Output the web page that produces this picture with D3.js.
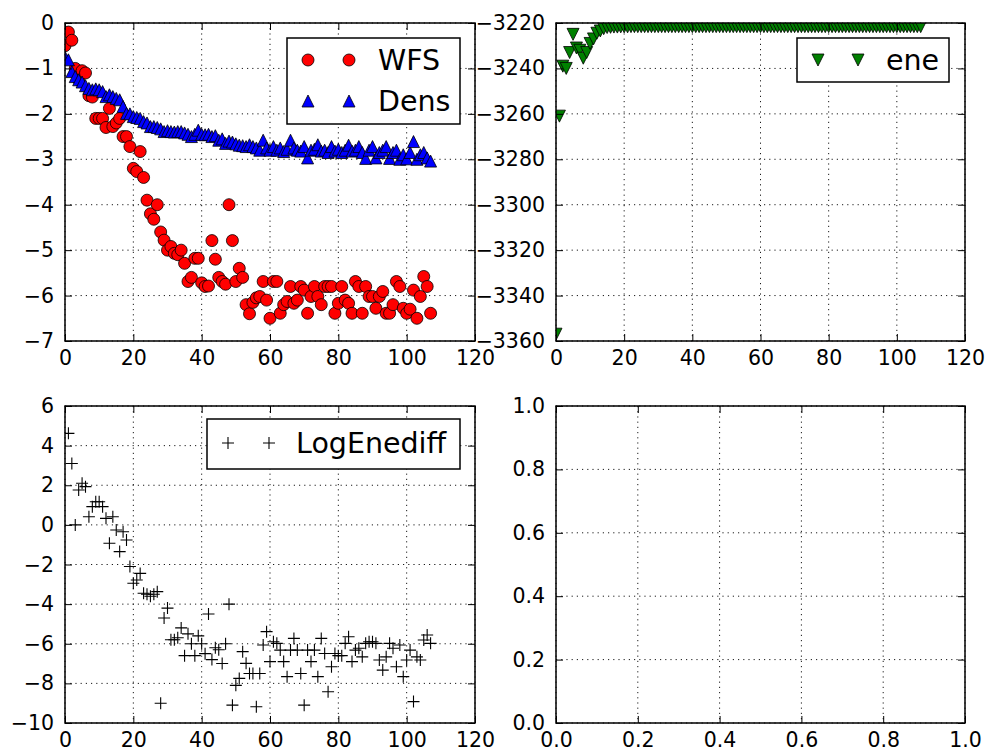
<!DOCTYPE html>
<html><head><meta charset="utf-8">
<script src="https://cdn.jsdelivr.net/npm/d3@7"></script>
<style>body{margin:0;background:#fff}</style>
</head><body><svg id="c" width="989" height="754"></svg>
<script>
// ---------- data ----------
const wfs = [-0.5, -0.2, -0.38, -1.0, -1.25, -1.05, -1.1, -1.6, -1.63, -2.1, -2.1,
 -2.1, -2.3, -1.88, -2.28, -2.2, -2.1, -2.5, -2.5, -2.72, -3.2,
 -3.27, -2.83, -3.4, -3.9, -4.2, -4.32, -4.0, -4.6, -4.78, -5.0,
 -4.92, -5.07, -5.1, -5.0, -5.29, -5.69, -5.6, -5.18, -5.18, -5.72,
 -5.8, -5.79, -4.79, -5.2, -5.6, -5.69, -5.75, -4.0, -4.79, -5.69,
 -5.4, -5.6, -6.2, -6.4, -6.15, -6.05, -6.02, -5.69, -6.1, -6.5,
 -5.69, -5.69, -6.39, -6.2, -6.13, -5.8, -6.17, -6.1, -5.8, -5.88,
 -6.39, -6.02, -5.8, -6.02, -6.2, -5.8, -5.8, -5.8, -6.39, -6.17,
 -5.8, -6.1, -6.17, -6.39, -5.69, -5.8, -6.39, -5.8, -6.02, -6.02,
 -6.28, -6.02, -5.91, -6.39, -6.39, -6.2, -5.69, -5.8, -6.28, -6.39,
 -6.3, -5.88, -6.5, -6.02, -5.58, -5.8, -6.39];
const dens = [-0.75, -0.81, -1.07, -1.18, -1.25, -1.3, -1.38, -1.44, -1.47, -1.45, -1.47,
 -1.51, -1.62, -1.58, -1.62, -1.66, -1.69, -1.84, -1.99, -2.0, -2.06,
 -2.08, -2.1, -2.17, -2.2, -2.28, -2.28, -2.3, -2.33, -2.39, -2.37,
 -2.39, -2.4, -2.39, -2.39, -2.42, -2.45, -2.5, -2.45, -2.36, -2.45,
 -2.46, -2.45, -2.5, -2.48, -2.58, -2.55, -2.65, -2.6, -2.62, -2.66,
 -2.69, -2.7, -2.72, -2.68, -2.72, -2.75, -2.8, -2.58, -2.75, -2.8,
 -2.72, -2.8, -2.75, -2.83, -2.78, -2.58, -2.75, -2.8, -2.82, -2.72,
 -2.97, -2.8, -2.78, -2.68, -2.82, -2.8, -2.85, -2.72, -2.82, -2.78,
 -2.85, -2.8, -2.69, -2.82, -2.8, -2.72, -2.85, -2.98, -2.8, -2.72,
 -2.97, -2.85, -2.8, -2.72, -2.98, -2.85, -2.8, -3.0, -2.9, -2.99,
 -2.85, -2.61, -3.0, -2.9, -2.85, -2.97, -3.04];
const ene = [-3357, -3261, -3239, -3240, -3233, -3225, -3231, -3232, -3235.5, -3233,
 -3229, -3227, -3224.5, -3223.5, -3222.5, -3222,
 -3221.9, -3221.8, -3221.8, -3221.7, -3221.7, -3221.7, -3221.6, -3221.6, -3221.6, -3221.6,
 -3221.6, -3221.6, -3221.6, -3221.6, -3221.6, -3221.6, -3221.6, -3221.6, -3221.6, -3221.6,
 -3221.6, -3221.6, -3221.6, -3221.6, -3221.6, -3221.6, -3221.6, -3221.6, -3221.6, -3221.6,
 -3221.6, -3221.6, -3221.6, -3221.6, -3221.6, -3221.6, -3221.6, -3221.6, -3221.6, -3221.6,
 -3221.6, -3221.6, -3221.6, -3221.6, -3221.6, -3221.6, -3221.6, -3221.6, -3221.6, -3221.6,
 -3221.6, -3221.6, -3221.6, -3221.6, -3221.6, -3221.6, -3221.6, -3221.6, -3221.6, -3221.6,
 -3221.6, -3221.6, -3221.6, -3221.6, -3221.6, -3221.6, -3221.6, -3221.6, -3221.6, -3221.6,
 -3221.6, -3221.6, -3221.6, -3221.6, -3221.6, -3221.6, -3221.6, -3221.6, -3221.6, -3221.6,
 -3221.6, -3221.6, -3221.6, -3221.6, -3221.6, -3221.6, -3221.6, -3221.6, -3221.6, -3221.6,
 -3221.6, -3221.6];
const logEnediff = [4.62, 3.1, 0.0, 1.76, 2.1, 1.93, 0.41, 0.92, 1.17, 1.17,
 0.92, 0.33, -0.93, 0.41, -0.26, -1.35, -0.35, -0.76, -2.1, -2.95,
 -2.78, -2.45, -3.45, -3.5, -3.6, -3.5, -3.37, -9.0, -4.7, -4.2,
 -5.8, -5.8, -5.7, -5.2, -6.6, -5.5, -6.0, -6.6, -5.6, -6.0,
 -6.5, -4.5, -6.8, -6.2, -6.3, -7.0, -6.0, -4.0, -9.1, -8.1,
 -7.75, -6.4, -6.99, -7.5, -7.5, -9.18, -7.5, -6.06, -5.39, -6.9,
 -5.9, -5.98, -6.32, -6.9, -7.66, -6.32, -5.73, -6.32, -7.5, -9.1,
 -6.32, -6.9, -6.32, -7.66, -5.73, -6.49, -8.42, -7.16, -6.49, -6.6,
 -6.6, -5.98, -5.65, -6.9, -6.32, -6.23, -6.66, -5.98, -5.9, -5.9,
 -5.98, -6.82, -7.33, -6.66, -5.98, -6.23, -7.16, -6.06, -7.66, -6.82,
 -6.32, -8.92, -6.66, -6.82, -5.81, -5.56, -5.98];
const iterX = d3.range(0, wfs.length);          // iteration index 0..107
const diffX = d3.range(1, logEnediff.length + 1); // 1..107
const iterTicks = [0, 20, 40, 60, 80, 100, 120];
const convTicks = [0, -1, -2, -3, -4, -5, -6, -7];
const eneTicks = [-3220, -3240, -3260, -3280, -3300, -3320, -3340, -3360];
const logTicks = [6, 4, 2, 0, -2, -4, -6, -8, -10];
const unitTicks = [0, 0.2, 0.4, 0.6, 0.8, 1.0];
const legendLabels = {wfs: "WFS", dens: "Dens", ene: "ene", log: "LogEnediff"};

// ---------- drawing ----------
const svg = d3.select("#c");
svg.append("rect").attr("width", 989).attr("height", 754).attr("fill", "#fff");
const FONT = "DejaVu Sans";
const TICKFS = 20.5, LEGFS = 28.5;
const MS = 6; // marker half-size

const markerPath = {
  up: `M0,${-MS}L${-MS},${MS}L${MS},${MS}Z`,
  down: `M0,${MS}L${-MS},${-MS}L${MS},${-MS}Z`,
  plus: `M${-MS},0H${MS}M0,${-MS}V${MS}`
};
const styles = {
  wfs: {shape: "circle", fill: "#ff0000"},
  dens: {shape: "up", fill: "#0000ff"},
  ene: {shape: "down", fill: "#008000"},
  log: {shape: "plus", fill: "none"}
};

function drawMarker(sel, st) {
  if (st.shape === "circle") {
    return sel.append("circle").attr("r", MS).attr("fill", st.fill)
      .attr("stroke", "#000").attr("stroke-width", 0.8);
  }
  if (st.shape === "plus") {
    return sel.append("path").attr("d", markerPath.plus).attr("fill", "none")
      .attr("stroke", "#000").attr("stroke-width", 1.1);
  }
  return sel.append("path").attr("d", markerPath[st.shape]).attr("fill", st.fill)
    .attr("stroke", "#000").attr("stroke-width", 0.8);
}

let clipId = 0;
function panel(p) {
  const g = svg.append("g");
  const x = d3.scaleLinear().domain(p.xd).range([p.x0, p.x1]);
  const y = d3.scaleLinear().domain(p.yd).range([p.y1, p.y0]);
  const id = "clip" + (clipId++);
  svg.append("clipPath").attr("id", id).append("rect")
    .attr("x", p.x0).attr("y", p.y0).attr("width", p.x1 - p.x0).attr("height", p.y1 - p.y0);
  // grid
  const grid = g.append("g").attr("stroke", "#000").attr("stroke-width", 0.9)
    .attr("stroke-dasharray", "1.2,4");
  grid.selectAll(".gx").data(p.xt).join("line")
    .attr("x1", d => x(d)).attr("x2", d => x(d)).attr("y1", p.y0).attr("y2", p.y1);
  grid.selectAll(".gy").data(p.yt).join("line")
    .attr("y1", d => y(d)).attr("y2", d => y(d)).attr("x1", p.x0).attr("x2", p.x1);
  // series
  const plot = g.append("g").attr("clip-path", `url(#${id})`);
  (p.series || []).forEach(s => {
    const st = styles[s.key];
    s.vals.forEach((v, i) => {
      const m = plot.append("g").attr("transform", `translate(${x(s.xs[i])},${y(v)})`);
      drawMarker(m, st);
    });
  });
  // axes
  const styleAxis = a => {
    a.select(".domain").remove();
    a.selectAll("line").attr("stroke", "#000").attr("stroke-width", 1);
    a.selectAll("text").attr("font-family", FONT).attr("font-size", TICKFS).attr("fill", "#000");
  };
  g.append("g").attr("transform", `translate(0,${p.y1})`)
    .call(d3.axisBottom(x).tickValues(p.xt).tickFormat(p.xf).tickSize(-7).tickPadding(9)).call(styleAxis);
  g.append("g").attr("transform", `translate(0,${p.y0})`)
    .call(d3.axisTop(x).tickValues(p.xt).tickFormat("").tickSize(-7)).call(styleAxis);
  g.append("g").attr("transform", `translate(${p.x0},0)`)
    .call(d3.axisLeft(y).tickValues(p.yt).tickFormat(p.yf).tickSize(-7).tickPadding(11)).call(styleAxis);
  g.append("g").attr("transform", `translate(${p.x1},0)`)
    .call(d3.axisRight(y).tickValues(p.yt).tickFormat("").tickSize(-7)).call(styleAxis);
  // spine
  g.append("rect").attr("x", p.x0).attr("y", p.y0).attr("width", p.x1 - p.x0).attr("height", p.y1 - p.y0)
    .attr("fill", "none").attr("stroke", "#000").attr("stroke-width", 1.5);
  // legend
  if (p.legend) {
    const L = p.legend;
    const lg = svg.append("g");
    lg.append("rect").attr("x", L.x).attr("y", L.y).attr("width", L.w).attr("height", L.h)
      .attr("fill", "#fff").attr("stroke", "#000").attr("stroke-width", 1.5);
    L.keys.forEach((k, i) => {
      const cy = L.y + L.first + i * L.step;
      [L.m1, L.m2].forEach(mx => {
        const m = lg.append("g").attr("transform", `translate(${L.x + mx},${cy})`);
        drawMarker(m, styles[k]);
      });
      lg.append("text").attr("x", L.x + L.tx).attr("y", cy).attr("dy", "0.36em")
        .attr("font-family", FONT).attr("font-size", LEGFS).attr("fill", "#000")
        .text(legendLabels[k]);
    });
  }
}

const fInt = d3.format("d"), f1 = d3.format(".1f");
const L = 65, R = 475, L2 = 556, R2 = 965, T = 23, B = 341, T2 = 406, B2 = 723;

panel({x0: L, x1: R, y0: T, y1: B, xd: [0, 120], yd: [-7, 0], xt: iterTicks, yt: convTicks, xf: fInt, yf: fInt,
  series: [{key: "wfs", xs: iterX, vals: wfs}, {key: "dens", xs: iterX, vals: dens}],
  legend: {x: 287, y: 38, w: 173, h: 86, first: 22, step: 41, m1: 21, m2: 62, tx: 91, keys: ["wfs", "dens"]}});
panel({x0: L2, x1: R2, y0: T, y1: B, xd: [0, 120], yd: [-3360, -3220], xt: iterTicks, yt: eneTicks, xf: fInt, yf: fInt,
  series: [{key: "ene", xs: iterX, vals: ene}],
  legend: {x: 797, y: 38, w: 152, h: 44, first: 22, step: 41, m1: 21, m2: 61, tx: 89, keys: ["ene"]}});
panel({x0: L, x1: R, y0: T2, y1: B2, xd: [0, 120], yd: [-10, 6], xt: iterTicks, yt: logTicks, xf: fInt, yf: fInt,
  series: [{key: "log", xs: diffX, vals: logEnediff}],
  legend: {x: 207, y: 419, w: 253, h: 50, first: 24, step: 41, m1: 21, m2: 62, tx: 89, keys: ["log"]}});
panel({x0: L2, x1: R2, y0: T2, y1: B2, xd: [0, 1], yd: [0, 1], xt: unitTicks, yt: unitTicks, xf: f1, yf: f1});
</script></body></html>
